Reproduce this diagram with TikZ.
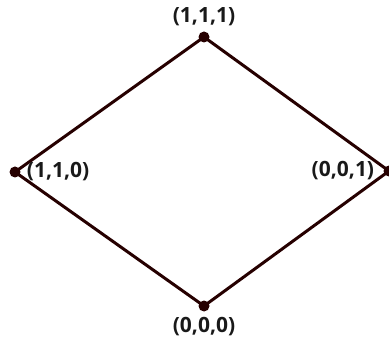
\documentclass[tikz,border=0pt]{standalone}
\usepackage{fontspec}
\setmainfont{Open Sans}
\usepackage{tikz}
\usetikzlibrary{positioning}

\begin{document}
\begin{tikzpicture}[
    x=1pt, y=-1pt,
    node distance=2pt and 4pt,
    dot/.style={circle, fill=black!85!red, inner sep=0pt, minimum size=11pt},
    edge/.style={line width=3pt, black!85!red},
    lbl/.style={font=\fontsize{21}{23}\selectfont\bfseries, inner sep=0pt, text=black!90}
  ]
    \useasboundingbox (0,0) rectangle (389,345);

    \node[dot] (top) at (204,37) {};
    \node[dot] (lft) at (15,172) {};
    \node[dot] (rgt) at (389,171) {};
    \node[dot] (bot) at (204,306) {};

    \draw[edge] (top.center) -- (lft.center) -- (bot.center) -- (rgt.center) -- cycle;

    \node[lbl, above=5pt of top] (ltop) {(1,1,1)};
    \node[lbl, right=6pt of lft] (llft) {(1,1,0)};
    \node[lbl, left=9pt of rgt] (lrgt) {(0,0,1)};
    \node[lbl, below=5pt of bot] (lbot) {(0,0,0)};
  \end{tikzpicture}
\end{document}
